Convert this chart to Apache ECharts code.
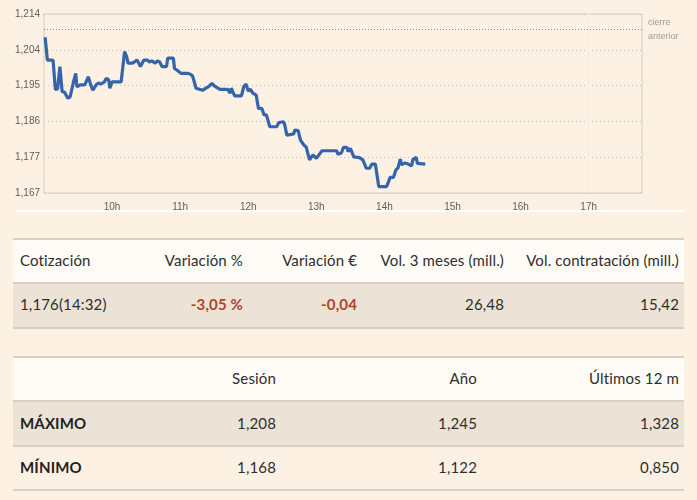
<!DOCTYPE html>
<html>
<head>
<meta charset="utf-8">
<script src="https://cdn.jsdelivr.net/npm/echarts@6/dist/echarts.min.js"></script>
<style>
  html,body{margin:0;padding:0;background:#fdf1e3;}
  #wrap{position:relative;width:697px;height:500px;overflow:hidden;background:#fdf1e3;}
  #chart{position:absolute;left:0;top:0;width:697px;height:230px;}
  .sep{position:absolute;left:16px;width:668px;top:210px;height:2px;background:#ffffff;}
  .row{position:absolute;left:13px;width:671px;box-sizing:border-box;}
  .line{position:absolute;left:13px;width:671px;height:2px;background:#d8d0c5;}
  .cell{position:absolute;font-family:Lato,"Open Sans",sans-serif;font-size:15px;color:#2e2e2e;white-space:nowrap;line-height:20px;letter-spacing:0.15px;}
  .neg{color:#b0432b;font-weight:bold;}
  .b{font-weight:bold;color:#222;}
</style>
</head>
<body>
<div id="wrap">
  <div id="chart"></div>
  <div class="sep"></div>
  <div id="tables"></div>
</div>
<script>
// ---- chart data ----
const times = ["09:01","09:03","09:08","09:10","09:12","09:14","09:16","09:18","09:21","09:23",
  "09:26","09:27","09:28","09:29","09:32","09:36","09:39","09:41","09:43","09:46",
  "09:48","09:50","09:53","09:55","09:57","09:58","10:00","10:08","10:11","10:13",
  "10:14","10:18","10:22","10:25","10:28","10:31","10:33","10:35","10:38","10:40",
  "10:42","10:44","10:48","10:49","10:54","10:55","10:57","11:01","11:07","11:09",
  "11:11","11:14","11:20","11:23","11:25","11:28","11:30","11:35","11:42","11:44",
  "11:45","11:48","11:54","11:56","11:58","12:00","12:02","12:04","12:07","12:09",
  "12:12","12:14","12:16","12:19","12:25","12:27","12:31","12:32","12:34","12:40",
  "12:41","12:44","12:46","12:49","12:51","12:52","12:54","12:57","13:00","13:05",
  "13:18","13:19","13:22","13:24","13:27","13:28","13:30","13:33","13:38","13:41",
  "13:44","13:47","13:49","13:52","13:55","14:02","14:05","14:08","14:10","14:12",
  "14:14","14:15","14:18","14:21","14:24","14:25","14:28","14:29","14:36"];
const prices = [1.2079,1.2019,1.2019,1.1942,1.1943,1.2002,1.1936,1.1935,1.1919,1.1922,
  1.1962,1.1961,1.1984,1.1949,1.1954,1.1954,1.1975,1.1956,1.1940,1.1954,
  1.1959,1.1956,1.1961,1.1971,1.1967,1.1945,1.1962,1.1962,1.2041,1.2027,
  1.2011,1.2011,1.2019,1.2002,1.2019,1.2019,1.2014,1.2017,1.2011,1.2017,
  1.2014,1.2002,1.2002,1.2024,1.2024,1.1997,1.1993,1.1984,1.1984,1.1982,
  1.1977,1.1945,1.1940,1.1946,1.1949,1.1958,1.1951,1.1942,1.1942,1.1932,
  1.1945,1.1925,1.1925,1.1949,1.1956,1.1938,1.1942,1.1932,1.1927,1.1892,
  1.1892,1.1875,1.1875,1.1844,1.1844,1.1855,1.1857,1.1851,1.1822,1.1825,
  1.1835,1.1834,1.1809,1.1796,1.1791,1.1791,1.1757,1.1770,1.1761,1.1781,
  1.1781,1.1772,1.1775,1.1790,1.1790,1.1779,1.1787,1.1765,1.1763,1.1757,
  1.1735,1.1735,1.1746,1.1746,1.1687,1.1687,1.1711,1.1711,1.1730,1.1736,
  1.1759,1.1744,1.1749,1.1746,1.1741,1.1757,1.1764,1.1748,1.1746];
const prevClose = 1.2130;
const yTickLabels = ["1,167","1,177","1,186","1,195","1,204","1,214"];
const hourLabels = ["10h","11h","12h","13h","14h","15h","16h","17h"];
const yMin = 1.167, yMax = 1.214, yStep = 0.0094;
const sessionOpen = "09:00", axisEnd = "17:47", closeMark = "17:00";

// ---- table data ----
const quoteHeaders = ["Cotización","Variación %","Variación €","Vol. 3 meses (mill.)","Vol. contratación (mill.)"];
const quoteValues = ["1,176(14:32)","-3,05 %","-0,04","26,48","15,42"];
const rangeHeaders = ["","Sesión","Año","Últimos 12 m"];
const rangeMax = ["MÁXIMO","1,208","1,245","1,328"];
const rangeMin = ["MÍNIMO","1,168","1,122","0,850"];

function toMin(s){const p=s.split(":");return (+p[0])*60+(+p[1]);}
const base = toMin(sessionOpen);
const seriesData = times.map((t,i)=>[toMin(t)-base, prices[i]]);

const chart = echarts.init(document.getElementById('chart'), null, {renderer:'canvas'});
chart.setOption({
  animation:false,
  backgroundColor:'#fdf1e3',
  grid:{left:44,top:14,width:598,height:179,show:true,borderColor:'#d3cbc0',borderWidth:1,backgroundColor:'transparent'},
  xAxis:{type:'value',min:0,max:toMin(axisEnd)-base,interval:60,
    axisLine:{show:false},axisTick:{show:false},splitLine:{show:false},
    axisLabel:{color:'#5e5e5e',fontSize:10,fontFamily:'Liberation Sans, Arial, sans-serif',margin:9,
      formatter:function(v){ if(v<=0||v%60!==0) return ''; const k=v/60-1; return hourLabels[k]||''; }}},
  yAxis:{type:'value',min:yMin,max:yMax,interval:yStep,
    axisLine:{show:false},axisTick:{show:false},
    splitLine:{show:true,lineStyle:{color:'#c9c1b6',type:[1,3],width:1}},
    axisLabel:{color:'#5e5e5e',fontSize:10,fontFamily:'Liberation Sans, Arial, sans-serif',margin:4,
      formatter:function(v){ const k=Math.round((v-yMin)/yStep); return yTickLabels[k]||''; }}},
  series:[{
    type:'line',data:seriesData,showSymbol:false,symbol:'none',
    lineStyle:{color:'#3464ac',width:3.2},
    markLine:{silent:true,symbol:'none',animation:false,
      data:[
        {yAxis:prevClose,lineStyle:{color:'#8f8a84',type:[1,2],width:1},
          label:{show:true,position:'end',formatter:'cierre\nanterior',color:'#a09a94',fontSize:9,
            fontFamily:'Liberation Sans, Arial, sans-serif',lineHeight:14,distance:6}},
        {xAxis:toMin(closeMark)-base,lineStyle:{color:'#f7ebdc',type:'solid',width:1,opacity:1},label:{show:false}}
      ]}
  }]
});

// ---- tables ----
const T = document.getElementById('tables');
function add(html){T.insertAdjacentHTML('beforeend',html);}
function rowBg(top,h,bg){add('<div class="row" style="top:'+top+'px;height:'+h+'px;background:'+bg+'"></div>');}
function hline(top){add('<div class="line" style="top:'+top+'px"></div>');}
function cellL(x,cy,txt,cls){add('<div class="cell '+(cls||'')+'" style="left:'+x+'px;top:'+(cy-10)+'px">'+txt+'</div>');}
function cellR(xr,cy,txt,cls){add('<div class="cell '+(cls||'')+'" style="right:'+(697-xr)+'px;top:'+(cy-10)+'px">'+txt+'</div>');}

// table 1
rowBg(240,42,'#fffbf6'); rowBg(284,43,'#ece3d6');
hline(238); hline(282); hline(327);
const q1Right=[null,243,357,504,679];
quoteHeaders.forEach((h,i)=>{ if(i===0) cellL(20,260,h); else cellR(q1Right[i],260,h); });
quoteValues.forEach((v,i)=>{ if(i===0) cellL(20,304,v); else cellR(q1Right[i],304,v,(i<=2?'neg':'')); });

// table 2
rowBg(358,42,'#fffbf6'); rowBg(402,43,'#ece3d6');
hline(356); hline(400); hline(445); hline(489);
const q2Right=[null,276,477,679];
rangeHeaders.forEach((h,i)=>{ if(i>0) cellR(q2Right[i],378,h); });
[[rangeMax,423],[rangeMin,467]].forEach(([r,cy])=>{
  r.forEach((v,i)=>{ if(i===0) cellL(20,cy,v,'b'); else cellR(q2Right[i],cy,v); });
});
</script>
</body>
</html>
